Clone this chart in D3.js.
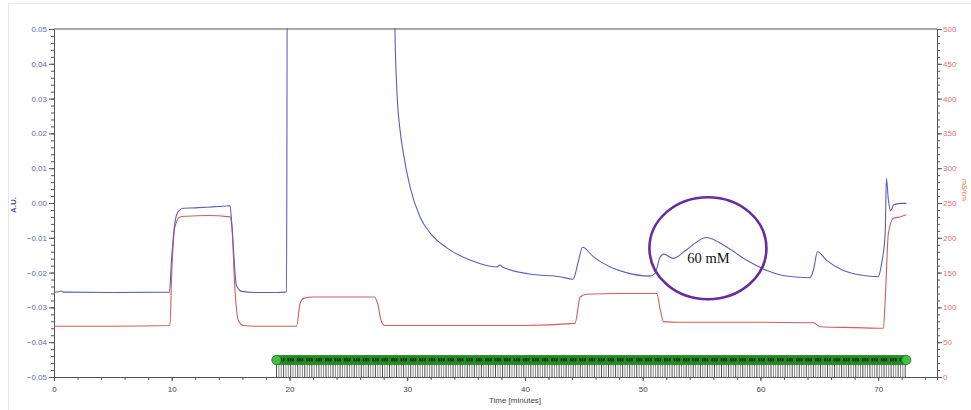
<!DOCTYPE html>
<meta charset="utf-8">
<script src="https://cdn.jsdelivr.net/npm/d3@7"></script>
<style>
body { margin: 0; background: #fff; }
text { font-family: "Liberation Sans", Arial, sans-serif; }
</style>
<body>
<script>
// UV absorbance trace (time in minutes, A.U.)
var uvTrace = [
  [0, -0.0256], [0.4, -0.0255], [0.6, -0.0253], [0.8, -0.0256], [5, -0.0257], [9.8, -0.0256],
  [10.0, -0.0153], [10.28, -0.0054], [10.56, -0.0024], [11.0, -0.0015], [12, -0.0014],
  [13, -0.0012], [14, -0.0010], [14.95, -0.0008], [15.1, -0.0060], [15.5, -0.0237],
  [15.95, -0.0254], [17, -0.0257], [19.0, -0.0257], [19.6, -0.0256], [19.75, -0.0255],
  [19.82, 0.07], [28.9, 0.07], [28.96, 0.050], [29.11, 0.0333], [29.39, 0.0210],
  [29.67, 0.0144], [30.24, 0.0046], [31.09, -0.0040], [31.94, -0.0086], [33.36, -0.0129],
  [35.34, -0.0164], [37.6, -0.0184], [37.88, -0.0178], [38.1, -0.0184], [40.4, -0.0204],
  [43.0, -0.0212], [44.1, -0.0219], [44.5, -0.0173], [44.9, -0.0127], [45.8, -0.0154],
  [47.2, -0.0183], [48.6, -0.0200], [50.6, -0.0210], [51.05, -0.0202], [51.5, -0.0154],
  [51.8, -0.0147], [52.6, -0.0159], [53.7, -0.0135], [55.4, -0.0099], [57.1, -0.0126],
  [58.8, -0.0164], [60.5, -0.0193], [62.2, -0.0210], [64.2, -0.0215], [64.5, -0.0193],
  [64.85, -0.0140], [65.6, -0.0164], [67.0, -0.0193], [68.5, -0.0207], [70.0, -0.0212],
  [70.3, -0.0173], [70.6, -0.0086], [70.7, 0.0071], [70.87, 0.0009], [71.07, -0.0022],
  [71.3, -0.0006], [71.86, -0.0001], [72.4, -0.0001]
];

// conductivity trace (time in minutes, right axis units)
var condTrace = [
  [0, 73], [5, 73], [9.85, 74], [10.0, 149], [10.28, 216], [10.7, 230], [11.27, 231],
  [13, 232], [14.95, 230], [15.1, 218], [15.37, 125], [15.65, 82], [16.08, 74], [17, 73],
  [20.6, 73], [20.9, 106], [21.2, 113], [22, 115], [25, 115], [27.2, 115], [27.5, 105],
  [27.8, 80], [28.1, 74], [30, 74], [40, 74], [44.25, 77], [44.7, 115], [45.25, 119],
  [48, 120], [51.2, 120], [51.5, 96], [51.77, 79.5], [53, 78.6], [60, 78.6], [64.5, 78],
  [65.07, 72.3], [68, 71], [70.45, 70], [70.6, 110.6], [70.87, 206], [71.3, 228],
  [71.86, 230], [72.4, 233]
];

// fraction collector marks: one fraction every 0.2 min
var fractionStart = 18.9, fractionEnd = 72.4, fractionStep = 0.2;

var xTicks = [0, 10, 20, 30, 40, 50, 60, 70];
var yLeftTicks = [-0.05, -0.04, -0.03, -0.02, -0.01, 0.00, 0.01, 0.02, 0.03, 0.04, 0.05];
var yRightTicks = [0, 50, 100, 150, 200, 250, 300, 350, 400, 450, 500];

var annotation = {t: 55.5, v: -0.0127, label: "60 mM"};

var W = 971, H = 410;
var L = 54, R = 937, T = 29, B = 377;

var svg = d3.select("body").append("svg").attr("width", W).attr("height", H);

// outer light frame
svg.append("rect").attr("x", 8.5).attr("y", 3.5).attr("width", W).attr("height", H)
  .attr("fill", "none").attr("stroke", "#e8e8e8");

var x = d3.scaleLinear().domain([0, 75]).range([L, R]);
var yL = d3.scaleLinear().domain([-0.05, 0.05]).range([B, T]);
var yR = d3.scaleLinear().domain([0, 500]).range([B, T]);

svg.append("clipPath").attr("id", "plot")
  .append("rect").attr("x", L).attr("y", T - 1).attr("width", R - L).attr("height", B - T + 1);

// axes
var axisColor = "#555";
function styleAxis(g, col) {
  g.select(".domain").attr("stroke", axisColor);
  g.selectAll("line").attr("stroke", axisColor);
  g.selectAll("text").attr("fill", col).style("font-size", "8px");
}

var gx = svg.append("g").attr("transform", "translate(0," + B + ")")
  .call(d3.axisBottom(x).tickValues(d3.range(0, 76, 2)).tickSize(3).tickFormat(""));
gx.call(styleAxis, "#444");
var gx2 = svg.append("g").attr("transform", "translate(0," + B + ")")
  .call(d3.axisBottom(x).tickValues(xTicks).tickSize(4).tickPadding(5).tickFormat(d3.format("d")));
gx2.call(styleAxis, "#444");
gx2.select(".domain").remove();

var gl = svg.append("g").attr("transform", "translate(" + L + ",0)")
  .call(d3.axisLeft(yL).tickValues(d3.range(-0.05, 0.0501, 0.002)).tickSize(3).tickFormat(""));
gl.call(styleAxis, "#6468b0");
var gl2 = svg.append("g").attr("transform", "translate(" + L + ",0)")
  .call(d3.axisLeft(yL).tickValues(yLeftTicks).tickSize(5).tickPadding(2).tickFormat(d3.format(".2f")));
gl2.call(styleAxis, "#6468b0");
gl2.select(".domain").remove();

var gr = svg.append("g").attr("transform", "translate(" + R + ",0)")
  .call(d3.axisRight(yR).tickValues(d3.range(0, 501, 10)).tickSize(3).tickFormat(""));
gr.call(styleAxis, "#e07470");
var gr2 = svg.append("g").attr("transform", "translate(" + R + ",0)")
  .call(d3.axisRight(yR).tickValues(yRightTicks).tickSize(5).tickPadding(1).tickFormat(d3.format("d")));
gr2.call(styleAxis, "#e07470");
gr2.select(".domain").remove();

// top frame line
svg.append("line").attr("x1", L).attr("x2", R).attr("y1", T).attr("y2", T)
  .attr("stroke", axisColor).attr("stroke-width", 1.2);

// axis titles
svg.append("text").attr("transform", "translate(16,205) rotate(-90)")
  .attr("text-anchor", "middle").style("font-size", "8px").style("font-weight", "bold")
  .attr("fill", "#4a4fb0").text("A.U.");
svg.append("text").attr("x", 515).attr("y", 403).attr("text-anchor", "middle")
  .style("font-size", "8px").attr("fill", "#444").text("Time [minutes]");
svg.append("text").attr("transform", "translate(962,190) rotate(90)")
  .attr("text-anchor", "middle").style("font-size", "7px").attr("fill", "#e07040").text("mS/cm");

// fraction marks
var fractions = d3.range(fractionStart, fractionEnd + 0.001, fractionStep);
svg.append("g").selectAll("line").data(fractions).enter().append("line")
  .attr("x1", function(d) { return x(d); }).attr("x2", function(d) { return x(d); })
  .attr("y1", 364).attr("y2", B)
  .attr("stroke", function(d, i) { return i % 3 == 0 ? "#222" : "#6a6a6a"; })
  .attr("stroke-width", 0.8);
svg.append("rect").attr("x", x(fractionStart) - 4.5).attr("y", 355.5)
  .attr("width", x(fractionEnd) - x(fractionStart) + 9).attr("height", 9).attr("rx", 4.5)
  .attr("fill", "#2e9e2e");
svg.append("g").selectAll("circle").data(fractions).enter().append("circle")
  .attr("cx", function(d) { return x(d); }).attr("cy", 360).attr("r", 4.6)
  .attr("fill", "none").attr("stroke", "#1c7a1c").attr("stroke-width", 0.6);
svg.append("g").selectAll("rect").data(fractions.filter(function(d, i) { return i % 4 != 0; }))
  .enter().append("rect")
  .attr("x", function(d) { return x(d) - 1; }).attr("y", 358).attr("width", 2).attr("height", 3.5)
  .attr("fill", "#0a2a0a").attr("opacity", 0.75);
svg.append("circle").attr("cx", x(fractionStart)).attr("cy", 360).attr("r", 4.6)
  .attr("fill", "#45c045").attr("stroke", "#1c7a1c").attr("stroke-width", 0.6);
svg.append("circle").attr("cx", x(fractionEnd)).attr("cy", 360).attr("r", 4.6)
  .attr("fill", "#45c045").attr("stroke", "#1c7a1c").attr("stroke-width", 0.6);

// traces
var lineUV = d3.line().x(function(d) { return x(d[0]); }).y(function(d) { return yL(d[1]); })
  .curve(d3.curveMonotoneX);
var lineCond = d3.line().x(function(d) { return x(d[0]); }).y(function(d) { return yR(d[1]); })
  .curve(d3.curveMonotoneX);

svg.append("path").datum(condTrace).attr("d", lineCond).attr("clip-path", "url(#plot)")
  .attr("fill", "none").attr("stroke", "#d45d58").attr("stroke-width", 1.1);
svg.append("path").datum(uvTrace).attr("d", lineUV).attr("clip-path", "url(#plot)")
  .attr("fill", "none").attr("stroke", "#5a5fc0").attr("stroke-width", 1.1);

// annotation
svg.append("ellipse").attr("cx", x(annotation.t) + 0.5).attr("cy", yL(annotation.v) + 1)
  .attr("rx", 58.5).attr("ry", 51).attr("fill", "none")
  .attr("stroke", "#6a2aa0").attr("stroke-width", 2.6);
svg.append("text").attr("x", x(annotation.t) + 1).attr("y", yL(annotation.v) + 16)
  .attr("text-anchor", "middle").style("font-family", "'Liberation Serif', 'Times New Roman', serif")
  .style("font-size", "14.5px").attr("fill", "#111").text(annotation.label);
</script>
</body>
</html>
